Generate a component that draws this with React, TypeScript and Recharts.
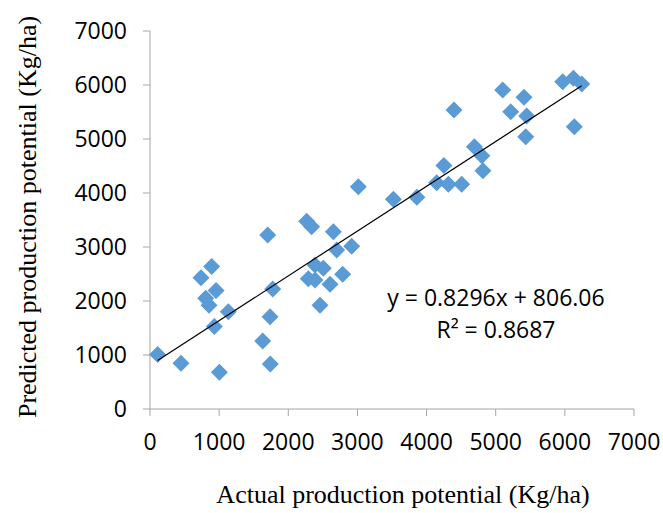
import { Label, ReferenceDot, Scatter, ScatterChart, XAxis, YAxis } from "recharts";

// actual (x) vs predicted (y) production potential, Kg/ha
const actual = [
  110, 448, 1003, 892, 738, 955, 805, 853, 930, 1133, 1702, 1775, 1736, 1630,
  1740, 2459, 2266, 2338, 2652, 2700, 2917, 2386, 2507, 2290, 2386, 2603, 2787,
  3013, 3520, 3860, 4146, 4250, 4315, 4508, 4397, 4691, 4800, 4815, 5101, 5217,
  5409, 5448, 5434, 5969, 6123, 6244, 6137,
];
const predicted = [
  1010, 846, 679, 2640, 2430, 2195, 2050, 1920, 1530, 1800, 3222, 2222, 1710,
  1259, 833, 1920, 3475, 3377, 3284, 2944, 3015, 2667, 2605, 2410, 2389, 2308,
  2494, 4117, 3883, 3920, 4190, 4510, 4160, 4160, 5537, 4858, 4690, 4410, 5907,
  5506, 5772, 5426, 5043, 6060, 6124, 6019, 5228,
];
const ticks = [0, 1000, 2000, 3000, 4000, 5000, 6000, 7000];

const slope = 0.8296;
const intercept = 806.06;
const equationText = "y = 0.8296x + 806.06";
const r2Text = "R² = 0.8687";

const points = actual.map((x, i) => ({ x, y: predicted[i] }));
const xMin = Math.min(...actual);
const xMax = Math.max(...actual);
const trend = [
  { x: xMin, y: slope * xMin + intercept },
  { x: xMax, y: slope * xMax + intercept },
];

const AXIS = "#a6a6a6";
const BLUE = "#5b9bd5";
const SANS = "'Open Sans', sans-serif";
const SERIF = "'Liberation Serif', 'Times New Roman', serif";

const Diamond = (props: any) => {
  const { cx, cy } = props;
  const r = 8.5;
  return (
    <polygon
      points={`${cx},${cy - r} ${cx + r},${cy} ${cx},${cy + r} ${cx - r},${cy}`}
      fill={BLUE}
    />
  );
};

const XTitle = (props: any) => {
  const vb = props.viewBox;
  return (
    <text
      x={vb.x + vb.width / 2 + 11}
      y={494}
      textAnchor="middle"
      dominantBaseline="central"
      fontFamily={SERIF}
      fontSize={26}
      fill="#000"
    >
      Actual production potential (Kg/ha)
    </text>
  );
};

const YTitle = (props: any) => {
  const vb = props.viewBox;
  const cx = 27;
  const cy = vb.y + vb.height / 2 - 3;
  return (
    <text
      x={cx}
      y={cy}
      transform={`rotate(-90 ${cx} ${cy})`}
      textAnchor="middle"
      dominantBaseline="central"
      fontFamily={SERIF}
      fontSize={26}
      fill="#000"
    >
      Predicted production potential (Kg/ha)
    </text>
  );
};

export default function App() {
  return (
    <div style={{ position: "absolute", left: 0, top: 0, width: 663, height: 513, background: "#fff" }}>
      <ScatterChart width={663} height={513} margin={{ top: 31, right: 29, bottom: 0, left: 0 }}>
        <XAxis
          type="number"
          dataKey="x"
          domain={[0, 7000]}
          ticks={ticks}
          interval={0}
          height={104}
          stroke={AXIS}
          tickSize={7}
          tickMargin={18}
          tick={{ fill: "#000", fontSize: 23, fontFamily: SANS }}
        >
          <Label content={XTitle} />
        </XAxis>
        <YAxis
          type="number"
          dataKey="y"
          domain={[0, 7000]}
          ticks={ticks}
          interval={0}
          width={150}
          stroke={AXIS}
          tickSize={7}
          tickMargin={16}
          tick={{ fill: "#000", fontSize: 23, fontFamily: SANS }}
        >
          <Label content={YTitle} />
        </YAxis>
        <Scatter data={points} shape={Diamond} isAnimationActive={false} />
        <Scatter
          data={trend}
          line={{ stroke: "#000", strokeWidth: 1.2 }}
          shape={() => null}
          isAnimationActive={false}
        />
        <ReferenceDot
          x={5004}
          y={2055}
          r={0}
          stroke="none"
          label={{ value: equationText, position: "center", fill: "#000", fontSize: 23, fontFamily: SANS }}
        />
        <ReferenceDot
          x={5004}
          y={1463}
          r={0}
          stroke="none"
          label={{ value: r2Text, position: "center", fill: "#000", fontSize: 23, fontFamily: SANS }}
        />
      </ScatterChart>
    </div>
  );
}
